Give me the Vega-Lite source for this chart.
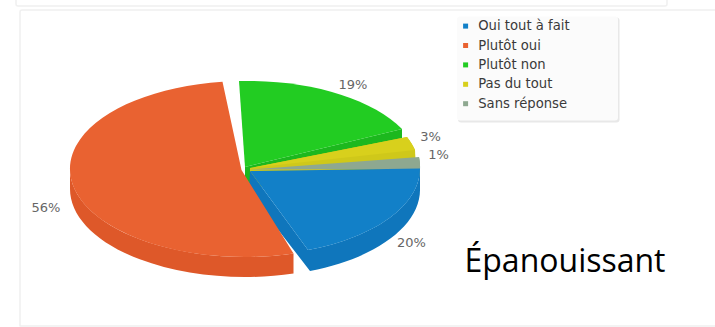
{"$schema":"https://vega.github.io/schema/vega-lite/v6.json","width":715,"height":327,"autosize":{"type":"none"},"padding":0,"background":"#ffffff","config":{"view":{"stroke":null}},"data":{"values":[{"answer":"Plutôt non","pct":19,"label":"19%"},{"answer":"Pas du tout","pct":3,"label":"3%"},{"answer":"Sans réponse","pct":1,"label":"1%"},{"answer":"Oui tout à fait","pct":20,"label":"20%"},{"answer":"Plutôt oui","pct":56,"label":"56%"}]},"layer":[{"data":{"values":[{"part":"cards"}]},"mark":{"type":"point","filled":false,"fill":null,"opacity":1,"size":4,"stroke":"#f0f0f0","strokeWidth":1.5,"shape":"M-341.5 -163.5 L-341.5 -159.5 Q-341.5 -157.5 -339.5 -157.5 L307.5 -157.5 Q309.5 -157.5 309.5 -159.5 L309.5 -163.5 M-337.5 163 L-337.5 -151.5 Q-337.5 -153.5 -335.5 -153.5 L357.5 -153.5 M-337.5 162.5 L357.5 162.5"},"encoding":{}},{"data":{"values":[{"part":"legend shadow"}]},"mark":{"type":"point","filled":true,"opacity":1,"size":4,"fill":"#e8e8e8","strokeWidth":0,"shape":"M103.5 -146 L259 -146 Q262 -146 262 -143 L262 -44 Q262 -41 259 -41 L103.5 -41 Q100.5 -41 100.5 -44 L100.5 -143 Q100.5 -146 103.5 -146 Z"},"encoding":{}},{"data":{"values":[{"part":"legend box"}]},"mark":{"type":"point","filled":true,"opacity":1,"size":4,"fill":"#fbfbfb","strokeWidth":0,"shape":"M102.5 -147 L257.5 -147 Q260.5 -147 260.5 -144 L260.5 -46 Q260.5 -43 257.5 -43 L102.5 -43 Q99.5 -43 99.5 -46 L99.5 -144 Q99.5 -147 102.5 -147 Z"},"encoding":{}},{"mark":{"type":"point","filled":true,"opacity":1,"size":4,"strokeWidth":0},"encoding":{"fill":{"field":"answer","type":"nominal","legend":null,"scale":{"domain":["Oui tout à fait","Plutôt oui","Plutôt non","Pas du tout","Sans réponse"],"range":["#0f76bc","#de5829","#1cb81e","#cfc81a","#86a08a"]}},"shape":{"field":"answer","type":"nominal","legend":null,"scale":{"domain":["Plutôt non","Pas du tout","Sans réponse","Oui tout à fait","Plutôt oui"],"range":["M-112.5 3.5 L44.5 -34.5 L44.5 -14.5 L-112.5 23.5 Z","M49.5 -26.5 A172 87 0 0 1 57.5 -13.5 L58.5 6.5 L-107.5 24.5 L-107.5 4.5 Z","M61.5 -6.5 A172 87 0 0 1 62.5 5.5 L62.5 15 L61.5 13 Z","M62.5 5 A171 86.85 0 0 1 -49.5 86.5 L-47.5 107.5 A171 86.85 0 0 0 62.5 25 Z M-107.5 7.5 L-49.5 86.5 L-47.5 107.5 L-108.5 28.5 Z","M-64 90.05 A175 88 0 0 1 -287.5 5.5 L-287.5 25.5 A175 88 0 0 0 -64 110.05 Z"]}}}},{"mark":{"type":"point","filled":true,"opacity":1,"size":4,"strokeWidth":0},"encoding":{"fill":{"field":"answer","type":"nominal","title":null,"scale":{"domain":["Oui tout à fait","Plutôt oui","Plutôt non","Pas du tout","Sans réponse"],"range":["#1280c8","#e96231","#22cc22","#d8d01c","#8ea890"]},"legend":{"orient":"none","legendX":459,"legendY":19.5,"symbolType":"square","symbolSize":25,"symbolStrokeWidth":0,"labelFont":"DejaVu Sans","labelFontSize":13.2,"labelColor":"#3a3a3a","labelOffset":6,"rowPadding":5.4,"zindex":1,"padding":0}},"shape":{"field":"answer","type":"nominal","legend":null,"scale":{"domain":["Plutôt non","Pas du tout","Sans réponse","Oui tout à fait","Plutôt oui"],"range":["M-112.5 3.5 L-118.5 -82.5 A172 87 0 0 1 44.5 -34.5 Z","M-107.5 4.5 L49.5 -26.5 A172 87 0 0 1 57.5 -13.5 Z","M-107.5 6 L61.5 -6.5 A172 87 0 0 1 62.5 5.5 Z","M-107.5 7.5 L62.5 5 A171 86.85 0 0 1 -49.5 86.5 Z","M-116 6.5 L-64 90.05 A175 88 0 1 1 -135 -81.77 Z"]}}}},{"mark":{"type":"text","font":"DejaVu Sans","fontSize":13,"fill":"#666666","align":"center","baseline":"middle"},"encoding":{"x":{"field":"pct","type":"quantitative","axis":null,"scale":{"domain":[1,3,19,20,56],"range":[438.5,430.5,353,411.5,46],"nice":false,"zero":false}},"y":{"field":"pct","type":"quantitative","axis":null,"scale":{"domain":[1,3,19,20,56],"range":[155,136.5,85,243,208],"nice":false,"zero":false}},"text":{"field":"label","type":"nominal"}}},{"data":{"values":[{"caption":"Épanouissant"}]},"mark":{"type":"text","font":"Open Sans","fontSize":32,"fill":"#000000","align":"center","baseline":"middle","dx":207.5,"dy":98.5},"encoding":{"text":{"field":"caption","type":"nominal"}}}],"resolve":{"scale":{"fill":"independent","shape":"independent"},"legend":{"fill":"independent"}}}
